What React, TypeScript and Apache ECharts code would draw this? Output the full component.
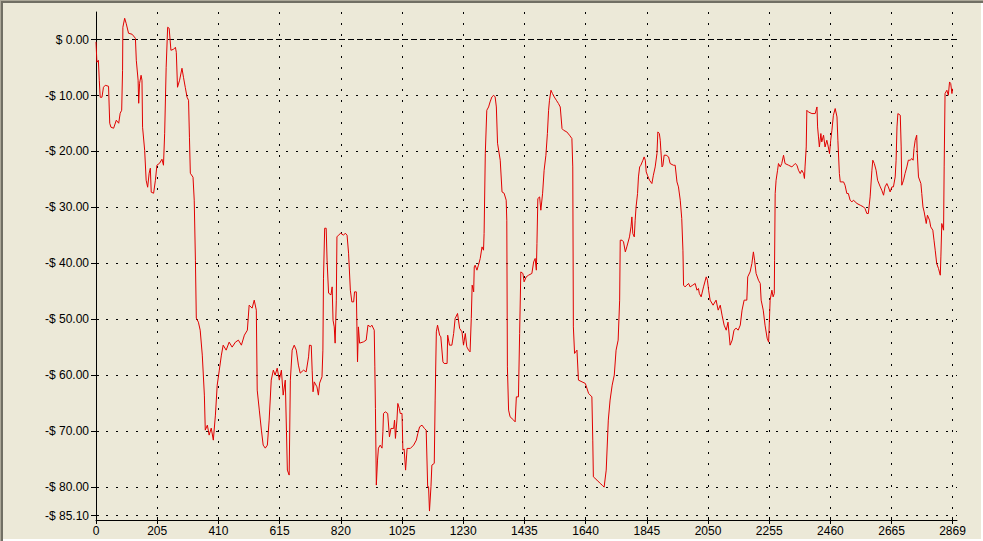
import React, { useEffect, useRef } from "react";
import * as echarts from "echarts";

const xs = [
  0, 3, 8, 11, 14, 20, 25, 31, 42, 46, 50, 59, 68, 76, 81, 86, 89, 90, 96, 101, 109, 121, 132, 135, 141, 143, 146, 151, 154, 156,
  163, 168, 173, 178, 182, 185, 193, 199, 204, 213, 221, 226, 230, 235, 240, 245, 251, 260, 266, 269, 273, 280, 288, 293, 299, 305,
  310, 313, 316, 325, 329, 333, 336, 343, 349, 356, 363, 366, 373, 379, 386, 393, 400, 406, 413, 420, 426, 436, 446, 456, 467, 477,
  487, 497, 507, 513, 523, 530, 537, 540, 547, 554, 560, 567, 574, 580, 587, 594, 600, 607, 614, 621, 627, 634, 641, 647, 651, 657,
  664, 671, 678, 684, 695, 704, 712, 715, 721, 724, 727, 731, 740, 745, 749, 757, 760, 762, 766, 771, 774, 779, 787, 791, 794, 798,
  801, 805, 807, 812, 820, 829, 835, 841, 846, 852, 857, 863, 866, 872, 874, 876, 879, 883, 896, 905, 911, 919, 924, 932, 934, 936,
  939, 943, 946, 952, 958, 961, 963, 969, 977, 983, 988, 997, 1000, 1003, 1008, 1011, 1016, 1019, 1025, 1028, 1032, 1037, 1042, 1053,
  1064, 1073, 1078, 1084, 1092, 1100, 1106, 1111, 1114, 1117, 1122, 1125, 1133, 1136, 1140, 1144, 1151, 1155, 1162, 1166, 1176, 1178,
  1184, 1192, 1198, 1203, 1211, 1218, 1226, 1231, 1237, 1242, 1248, 1253, 1257, 1260, 1265, 1267, 1270, 1276, 1281, 1287, 1293, 1298,
  1300, 1304, 1309, 1315, 1320, 1326, 1332, 1337, 1341, 1345, 1354, 1360, 1367, 1374, 1376, 1378, 1382, 1387, 1399, 1404, 1408, 1415,
  1419, 1423, 1430, 1434, 1441, 1449, 1460, 1466, 1471, 1475, 1477, 1480, 1486, 1490, 1496, 1501, 1507, 1512, 1516, 1519, 1524, 1529,
  1535, 1542, 1549, 1555, 1561, 1566, 1577, 1586, 1594, 1597, 1599, 1603, 1611, 1616, 1628, 1639, 1650, 1661, 1664, 1666, 1678, 1689,
  1696, 1702, 1709, 1716, 1722, 1729, 1736, 1742, 1749, 1754, 1756, 1762, 1767, 1773, 1778, 1787, 1792, 1795, 1798, 1803, 1806, 1809,
  1814, 1817, 1821, 1825, 1832, 1836, 1840, 1843, 1847, 1854, 1862, 1867, 1873, 1879, 1882, 1887, 1890, 1892, 1896, 1899, 1903, 1910,
  1918, 1923, 1934, 1940, 1946, 1951, 1957, 1962, 1966, 1968, 1973, 1979, 1985, 1990, 1999, 2007, 2013, 2018, 2021, 2027, 2035, 2044,
  2048, 2052, 2057, 2067, 2077, 2084, 2091, 2097, 2104, 2111, 2117, 2124, 2131, 2137, 2144, 2151, 2158, 2164, 2171, 2180, 2183, 2191,
  2197, 2202, 2206, 2211, 2219, 2225, 2228, 2235, 2241, 2248, 2253, 2258, 2264, 2268, 2272, 2273, 2275, 2278, 2283, 2286, 2292, 2297,
  2303, 2308, 2320, 2331, 2342, 2348, 2353, 2359, 2364, 2370, 2373, 2375, 2379, 2381, 2386, 2398, 2409, 2415, 2417, 2420, 2423, 2428,
  2431, 2437, 2442, 2448, 2453, 2457, 2461, 2465, 2470, 2476, 2482, 2485, 2490, 2493, 2504, 2509, 2515, 2520, 2526, 2532, 2537, 2549,
  2560, 2571, 2576, 2582, 2587, 2593, 2599, 2602, 2607, 2613, 2618, 2627, 2632, 2638, 2643, 2649, 2654, 2660, 2666, 2671, 2677, 2680,
  2683, 2686, 2694, 2697, 2699, 2705, 2710, 2716, 2721, 2727, 2733, 2737, 2740, 2744, 2749, 2751, 2755, 2763, 2766, 2770, 2774, 2781,
  2785, 2792, 2796, 2803, 2807, 2811, 2816, 2822, 2828, 2830, 2833, 2839, 2841, 2844, 2850, 2855, 2859, 2863, 2867, 2869,
];

const pnl = [
  -0.4, -4.06, -3.7, -7.27, -10.31, -10.31, -8.53, -8.17, -8.35, -14.96, -15.67, -15.85, -14.42, -14.96, -13.17, -12.64, -5.49, 2.2,
  3.81, 2.91, 1.13, 0.95, 0.23, -3.7, -7.27, -11.39, -7.81, -6.38, -7.27, -15.67,
  -19.79, -25.15, -26.4, -23.9, -23.0, -27.29, -27.47, -25.15, -22.47, -22.11, -21.39, -22.47, -16.75, -4.95, 2.2, 2.02, -1.91, -1.73,
  -1.38, -2.27, -8.53, -7.27, -5.13, -6.74, -8.53, -10.31,
  -10.85, -17.46, -23.9, -24.61, -28.72, -39.45, -49.81, -50.53, -51.96, -56.42, -63.57, -69.83, -68.94, -70.72, -69.47, -71.62,
  -67.15, -61.79, -59.11, -56.42, -54.64, -55.53, -54.1, -54.99, -54.1, -53.74,
  -54.64, -52.85, -51.96, -47.49, -48.02, -46.59, -48.38, -62.68, -66.25, -69.83, -72.51, -73.05, -72.51, -68.04, -60.89, -59.11,
  -60.0, -58.75, -60.89, -59.11, -63.57, -60.89, -76.98, -77.87, -60.89, -55.53,
  -54.64, -55.53, -58.21, -59.64, -59.11, -59.41, -56.73, -54.64, -54.7, -59.11, -62.98, -61.2, -62.09, -63.57, -61.43, -60.3,
  -55.53, -42.66, -33.73, -33.73, -39.45, -45.34, -45.65, -44.22, -50.17, -51.37,
  -54.28, -46.59, -35.28, -34.98, -34.62, -34.98, -34.62, -34.98, -38.19, -44.81, -46.9, -46.9, -45.11, -45.11, -51.37, -57.62,
  -51.37, -54.28, -54.05, -53.74, -51.06, -51.37, -51.06, -51.96, -58.52, -65.95,
  -79.66, -75.19, -73.05, -72.51, -73.05, -70.13, -66.85, -66.56, -66.85, -71.03, -69.53, -69.53, -68.04, -71.31, -68.04, -65.06,
  -65.95, -66.85, -66.85, -73.4, -73.2, -76.98, -73.1, -73.1,
  -72.51, -71.62, -70.42, -69.24, -68.94, -69.53, -69.83, -79.96, -79.96, -84.3, -79.96, -76.09, -75.78, -64.46, -52.26, -51.06,
  -52.85, -53.15, -57.62, -57.91, -57.91, -52.85,
  -54.64, -54.64, -52.55, -49.87, -48.97, -51.65, -52.26, -54.64, -52.55, -54.94, -55.53, -55.84, -49.87, -43.91, -45.11, -40.64,
  -40.34, -41.23, -40.34, -39.14, -37.07, -37.66,
  -34.67, -20.32, -12.64, -12.05, -11.15, -10.26, -9.96, -10.26, -12.05, -18.53, -21.57, -27.24, -27.47, -28.72, -32.3, -58.52,
  -66.25, -67.45, -68.04, -68.35, -63.88, -63.88,
  -52.55, -41.54, -41.82, -43.32, -42.43, -42.13, -41.82, -39.75, -39.14, -41.23, -36.46, -28.42, -28.13, -30.51, -27.47, -23.36,
  -20.68, -16.8, -12.64, -10.85, -9.06, -9.65,
  -10.26, -10.85, -11.44, -12.05, -15.91, -16.21, -16.51, -17.1, -17.69, -22.77, -51.37, -56.12, -55.53, -60.89, -61.2, -61.48,
  -63.27, -63.88, -71.62, -78.18, -78.77, -79.36,
  -79.7, -80.02, -76.98, -68.04, -64.46, -61.79, -60.0, -55.53, -53.74, -46.59, -35.87, -35.87, -36.17, -37.96, -37.07, -35.28,
  -33.49, -31.71, -34.67, -35.28, -32.3, -29.92,
  -27.52, -24.56, -22.77, -22.47, -21.57, -20.98, -21.57, -23.66, -24.25, -25.15, -25.74, -24.25, -22.77, -20.38, -16.51, -16.8,
  -18.0, -19.79, -22.77, -22.47, -20.68, -20.68,
  -20.98, -22.16, -22.47, -22.47, -25.45, -26.34, -28.72, -31.99, -37.66, -43.91, -44.22, -43.91, -43.61, -44.22, -43.91, -43.61,
  -44.81, -44.5, -45.4, -46.0, -44.22, -42.43,
  -43.02, -44.81, -46.59, -47.49, -46.59, -48.38, -47.49, -49.27, -51.06, -51.96, -50.53, -54.64, -53.74, -51.96, -51.6, -51.96,
  -51.06, -48.38, -46.59, -46.59, -42.43, -41.54,
  -40.04, -37.96, -39.45, -41.82, -43.02, -43.61, -46.59, -48.38, -51.06, -53.39, -54.1, -46.59, -44.81, -46.0, -45.4, -39.45,
  -27.52, -25.15, -23.36, -22.16, -22.77, -22.16,
  -20.68, -22.16, -22.47, -22.77, -22.16, -22.47, -23.36, -23.95, -23.36, -23.95, -24.84, -22.77, -19.2, -12.64, -12.94, -13.23,
  -13.23, -12.05, -15.62, -17.41, -19.2, -16.8,
  -18.3, -17.1, -19.2, -18.0, -19.2, -20.38, -18.0, -16.21, -13.53, -12.33, -13.83, -18.0, -23.95, -25.45, -25.45, -26.04,
  -27.52, -27.52, -28.72, -29.03, -28.72, -29.31,
  -29.62, -29.92, -30.22, -31.1, -31.1, -28.13, -23.36, -21.57, -22.16, -23.36, -25.15, -26.34, -26.93, -27.83, -26.34, -25.74,
  -26.34, -27.24, -26.34, -26.34, -24.56, -21.57,
  -15.62, -13.23, -13.53, -19.2, -26.04, -25.15, -23.95, -22.77, -21.57, -21.57, -21.27, -21.57, -19.48, -18.0, -17.1, -20.38,
  -24.56, -25.74, -27.52, -29.92, -30.81, -32.89,
  -31.4, -32.3, -33.49, -34.08, -35.87, -37.66, -40.04, -40.93, -42.13, -38.86, -32.89, -34.08, -22.77, -9.65, -9.06, -9.96,
  -7.58, -7.86, -9.65, -8.8,
];

const xTicks = [0, 205, 410, 615, 820, 1025, 1230, 1435, 1640, 1845, 2050, 2255, 2460, 2665, 2869];
const yTicks = [0, -10, -20, -30, -40, -50, -60, -70, -80, -85.1];

const X_MIN = 0;
const X_MAX = 2884;
const Y_MIN = -85.9;
const Y_MAX = 4.93;

const fmtMoney = (v: number) => (v >= 0 ? "$ " + v.toFixed(2) : "-$ " + Math.abs(v).toFixed(2));

export default function App() {
  const ref = useRef<HTMLDivElement>(null);

  useEffect(() => {
    if (!ref.current) return;
    const chart = echarts.init(ref.current, null, { renderer: "svg" });
    const data = xs.map((x, i) => [x, pnl[i]]);
    const font = '"Liberation Sans", Arial, sans-serif';

    const gridLines: any[] = [
      ...xTicks.filter((v) => v !== 0).map((v) => ({
        xAxis: v,
        lineStyle: { color: "#000", width: 1, type: [2, 9] },
      })),
      ...yTicks.map((v) => ({
        yAxis: v,
        lineStyle: v === 0 ? { color: "#000", width: 1, type: [6, 3] } : { color: "#000", width: 1, type: [2, 8] },
      })),
    ];

    chart.setOption({
      animation: false,
      backgroundColor: "#ECE9D8",
      grid: { left: 96, top: 12, width: 861, height: 508, containLabel: false },
      xAxis: [
        {
          type: "value",
          min: X_MIN,
          max: X_MAX,
          axisLine: { show: true, onZero: false, lineStyle: { color: "#000", width: 1 } },
          axisTick: { show: true, inside: false, length: 4, customValues: xTicks, lineStyle: { color: "#000" } },
          axisLabel: {
            show: true,
            customValues: xTicks,
            color: "#000",
            fontSize: 12,
            fontFamily: font,
            margin: 5,
            formatter: (v: number) => String(v),
          },
          splitLine: { show: false },
        },
        {
          type: "value",
          position: "bottom",
          min: X_MIN,
          max: X_MAX,
          axisLine: { show: false, onZero: false },
          axisTick: { show: true, inside: true, length: 3, customValues: xTicks, lineStyle: { color: "#000" } },
          axisLabel: { show: false },
          splitLine: { show: false },
        },
      ],
      yAxis: [
        {
          type: "value",
          min: Y_MIN,
          max: Y_MAX,
          axisLine: { show: true, onZero: false, lineStyle: { color: "#000", width: 1 } },
          axisTick: { show: true, inside: false, length: 5, customValues: yTicks, lineStyle: { color: "#000" } },
          axisLabel: {
            show: true,
            customValues: yTicks,
            color: "#000",
            fontSize: 12,
            fontFamily: font,
            margin: 7,
            formatter: (v: number) => fmtMoney(v),
          },
          splitLine: { show: false },
        },
        {
          type: "value",
          position: "left",
          min: Y_MIN,
          max: Y_MAX,
          axisLine: { show: false, onZero: false },
          axisTick: { show: true, inside: true, length: 3, customValues: yTicks, lineStyle: { color: "#000" } },
          axisLabel: { show: false },
          splitLine: { show: false },
        },
      ],
      graphic: [
        { type: "rect", shape: { x: 0, y: 0, width: 983, height: 1 }, style: { fill: "#ACA899" }, z: 100 },
        { type: "rect", shape: { x: 0, y: 1, width: 983, height: 2 }, style: { fill: "#716F64" }, z: 100 },
        { type: "rect", shape: { x: 0, y: 0, width: 1, height: 541 }, style: { fill: "#ACA899" }, z: 100 },
        { type: "rect", shape: { x: 1, y: 1, width: 2, height: 540 }, style: { fill: "#716F64" }, z: 100 },
        { type: "rect", shape: { x: 3, y: 539, width: 980, height: 2 }, style: { fill: "#FFFFFF" }, z: 100 },
        { type: "rect", shape: { x: 981, y: 3, width: 2, height: 538 }, style: { fill: "#FFFFFF" }, z: 100 },
      ],
      series: [
        {
          type: "line",
          xAxisIndex: 0,
          yAxisIndex: 0,
          data,
          showSymbol: false,
          symbol: "none",
          lineStyle: { color: "#E00000", width: 1 },
          z: 5,
          markLine: {
            silent: true,
            symbol: "none",
            label: { show: false },
            z: 1,
            data: gridLines,
          },
        },
      ],
    });

    return () => chart.dispose();
  }, []);

  return (
    <div
      ref={ref}
      style={{ position: "fixed", left: 0, top: 0, width: 983, height: 541 }}
    />
  );
}
